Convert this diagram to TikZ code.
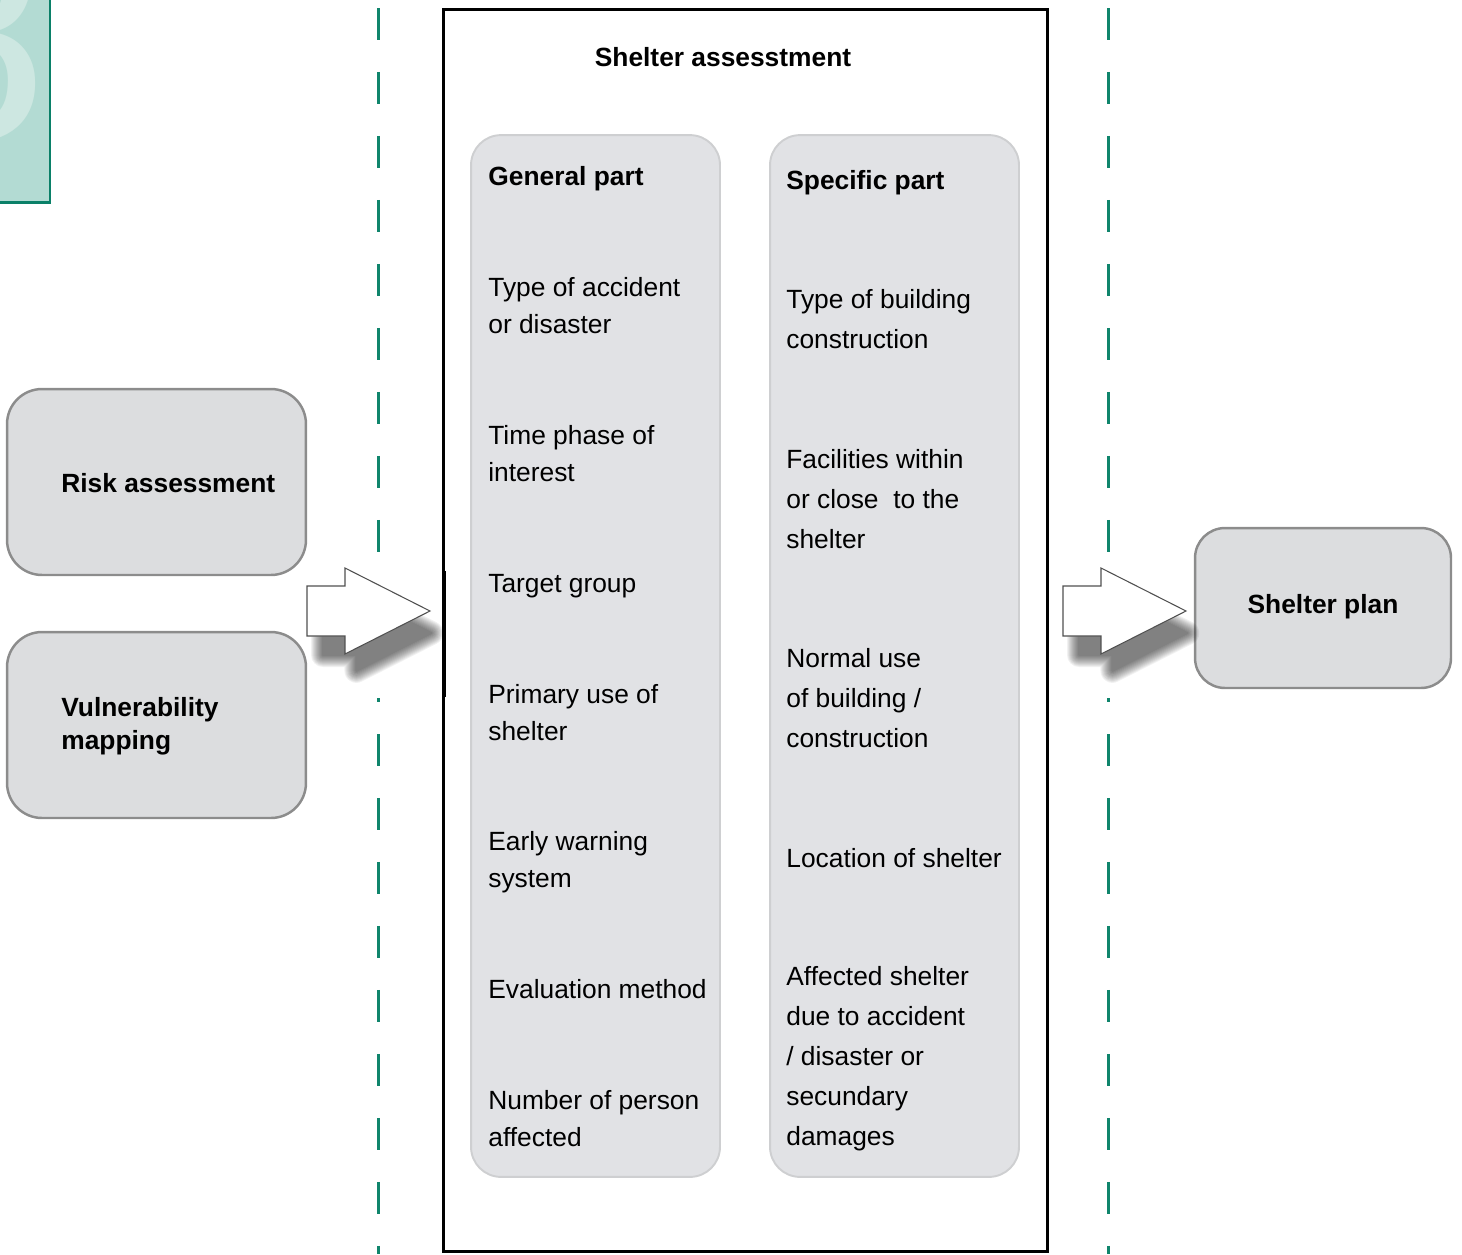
\documentclass[tikz, border = 0pt]{standalone}
\usepackage{fontspec}
\setmainfont{Liberation Sans}

\definecolor{tealline}{RGB}{16, 133, 108}
\definecolor{tabfill}{RGB}{179, 219, 211}
\definecolor{tabline}{RGB}{10, 128, 104}
\definecolor{tabdigit}{RGB}{205, 231, 225}
\definecolor{sidefill}{RGB}{220, 221, 223}
\definecolor{sideline}{RGB}{140, 140, 140}
\definecolor{colfill}{RGB}{225, 226, 229}
\definecolor{colline}{RGB}{206, 207, 209}
\definecolor{arrowline}{RGB}{80, 80, 80}
\newcommand{\arrowoutline}{(0, -25) -- (38, -25) -- (38, -43) -- (123, 0) -- (38, 43) -- (38, 25) -- (0, 25) -- cycle}

\begin{document}
\begin{tikzpicture}[x = 0.02cm, y = -0.02cm,
    sidebox/.style = {draw = sideline, fill = sidefill, line width = 1.4pt, rounded corners = 0.7cm, minimum width = 5.98cm, minimum height = 3.72cm},
    column/.style = {draw = colline, fill = colfill, line width = 1.1pt, rounded corners = 0.6cm, minimum width = 4.98cm, minimum height = 20.84cm},
    item/.style = {anchor = base west, align = left, inner sep = 0pt, font = \fontsize{15}{21}\selectfont},
    wideitem/.style = {item, font = \fontsize{15}{22.7}\selectfont},
    heading/.style = {anchor = base west, align = left, inner sep = 0pt, font = \fontsize{15}{18.7}\selectfont\bfseries},
    dashline/.style = {tealline, line width = 1.7pt, dash pattern = on 0.64cm off 0.64cm},
    blockarrow/.style = {draw = arrowline, fill = white, line width = 0.6pt}]
    \useasboundingbox (0, 0) rectangle (1462, 1254);

    \begin{scope}
        \clip (-5, -5) rectangle (50, 202.5);
        \fill[tabfill] (-5, -5) rectangle (50, 202.5);
        \node[text = tabdigit, font = \fontsize{170}{170}\selectfont, anchor = base, inner sep = 0pt] (chapter) at (-34, 140) {8};
    \end{scope}
    \draw[tabline, line width = 1.6pt] (50, -5) -- (50, 202.5) -- (-5, 202.5);

    \draw[dashline] (378, 8) -- (378, 554);
    \draw[dashline, dash phase = 0.56cm] (378, 698) -- (378, 1254);
    \draw[dashline] (1108, 8) -- (1108, 554);
    \draw[dashline, dash phase = 0.56cm] (1108, 698) -- (1108, 1254);

    \node[draw, line width = 1.7pt, minimum width = 12.1cm, minimum height = 24.86cm] (frame) at (745.5, 630.5) {};
    \draw[line width = 2.6pt] (444, 571) -- (444, 697);
    \node[anchor = base, inner sep = 0pt, font = \fontsize{15}{18}\selectfont\bfseries] (title) at (723, 66) {Shelter assesstment};

    \node[column] (general) at (595.5, 656) {};
    \node[column] (specific) at (894.5, 656) {};

    \node[heading] (generalhead) at (488, 185) {General part};
    \node[item] (accident) at (488, 333) {Type of accident\\or disaster};
    \node[item] (phase) at (488, 481) {Time phase of\\interest};
    \node[item] (target) at (488, 592) {Target group};
    \node[item] (primary) at (488, 740) {Primary use of\\shelter};
    \node[item] (warning) at (488, 887) {Early warning\\system};
    \node[item] (evaluation) at (488, 998) {Evaluation method};
    \node[item] (persons) at (488, 1146) {Number of person\\affected};

    \node[heading] (specifichead) at (786, 189) {Specific part};
    \node[wideitem] (building) at (786, 348) {Type of building\\construction};
    \node[wideitem] (facilities) at (786, 548) {Facilities within\\or close \ to the\\shelter};
    \node[wideitem] (normaluse) at (786, 747) {Normal use\\of building /\\construction};
    \node[wideitem] (location) at (786, 867) {Location of shelter};
    \node[wideitem] (affected) at (786, 1145) {Affected shelter\\due to accident\\/ disaster or\\secundary\\damages};

    \node[sidebox] (risk) at (156.5, 482) {};
    \node[sidebox] (vulnerability) at (156.5, 725) {};
    \node[heading] (risktext) at (61, 492) {Risk assessment};
    \node[heading] (vulnerabilitytext) at (61, 749) {Vulnerability\\mapping};

    \node[sidebox, minimum width = 5.12cm, minimum height = 3.2cm, rounded corners = 0.6cm] (plan) at (1323, 608) {};
    \node[anchor = base, inner sep = 0pt, font = \fontsize{15}{18}\selectfont\bfseries] (plantext) at (1323, 613) {Shelter plan};

    \foreach \x in {307, 1063} {
        \foreach \w in {2, 4, ..., 24} {
            \begin{scope}[shift = {(\x + 16, 633)}, scale = 0.88, transparency group, opacity = 0.056]
                \filldraw[black, line width = \w * 0.02cm, line join = round] \arrowoutline;
            \end{scope}
        }
        \filldraw[blockarrow, shift = {(\x, 611)}] \arrowoutline;
    }
\end{tikzpicture}
\end{document}
